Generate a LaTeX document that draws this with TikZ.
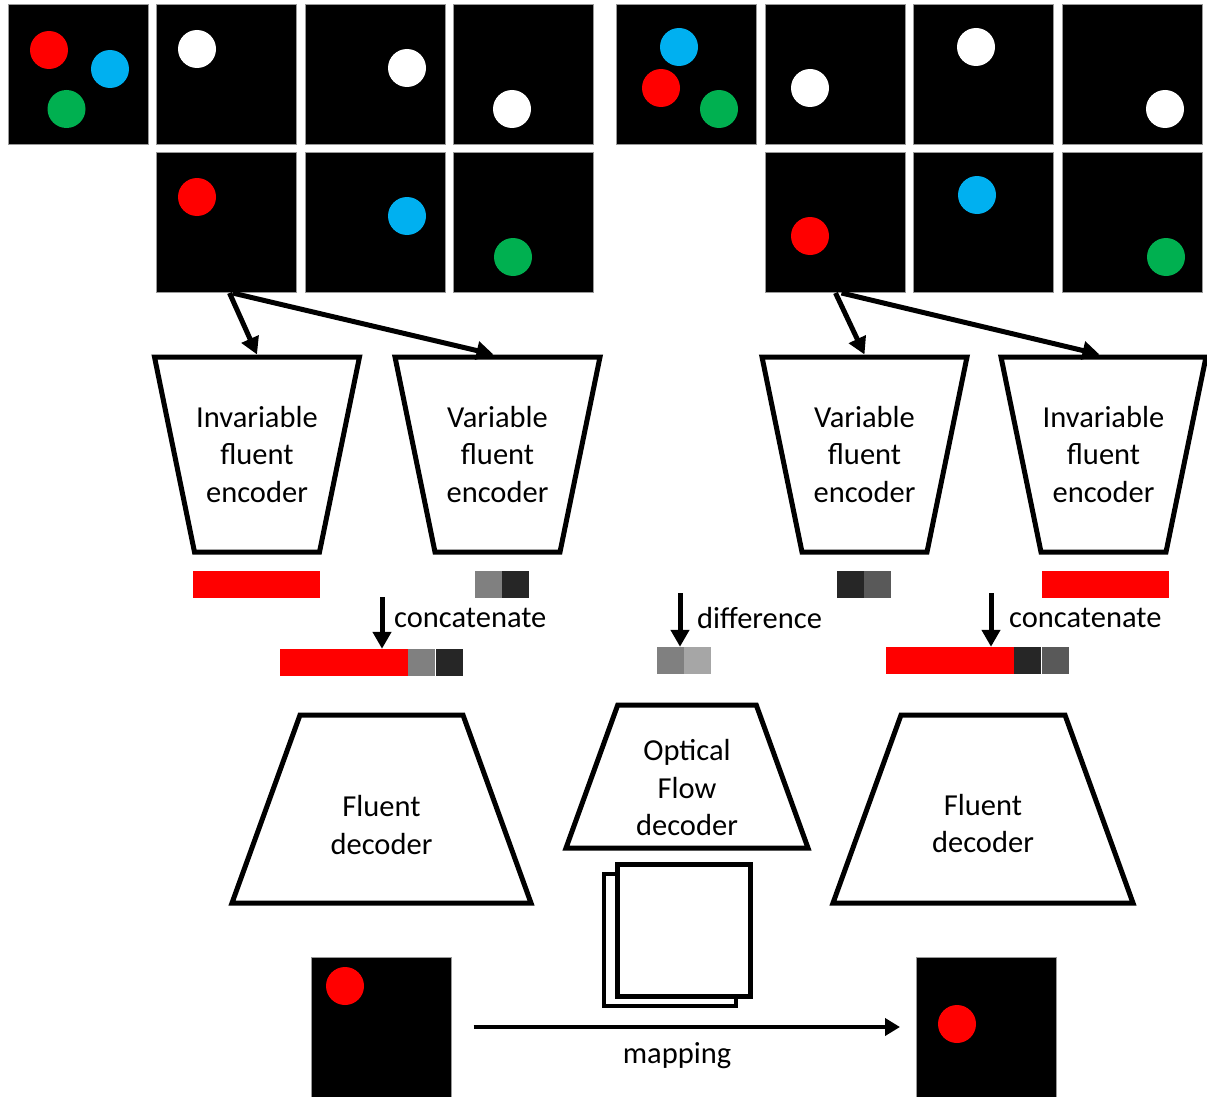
\documentclass[tikz,border=0pt]{standalone}
\usepackage{fontspec}
\setmainfont{Carlito}
\usetikzlibrary{shapes.geometric,arrows.meta,positioning}

\definecolor{ballred}{HTML}{FF0000}
\definecolor{ballblue}{HTML}{00B0F0}
\definecolor{ballgreen}{HTML}{00B050}
\definecolor{gmid}{HTML}{808080}
\definecolor{gdark}{HTML}{262626}
\definecolor{gdim}{HTML}{595959}
\definecolor{glight}{HTML}{A6A6A6}

\newcommand{\lblfont}{\fontsize{30.5}{37.5}\selectfont}

\tikzset{
  frame/.style={fill=black, draw=gray!80, line width=1pt, minimum size=140pt, inner sep=0pt},
  ball/.style={circle, minimum size=38pt, inner sep=0pt, draw=none},
  enc/.style={trapezium, draw, line width=5pt, trapezium angle=78.41,
    shape border rotate=180, trapezium stretches body,
    minimum width=205pt, inner xsep=0pt, inner ysep=97.5pt},
  dec/.style={trapezium, draw, line width=5pt, trapezium angle=70.11,
    trapezium stretches body, inner xsep=0pt},
  lbl/.style={align=center, font=\lblfont, inner sep=0pt},
  cell/.style={minimum width=27pt, minimum height=27pt, inner sep=0pt, draw=none},
  vec/.style={cell, minimum width=127pt, fill=ballred},
  page/.style={draw, fill=white, inner sep=0pt},
  arr/.style={line width=5pt, -{Triangle[length=17pt,width=18pt]}},
  maparr/.style={line width=4.5pt, -{Triangle[length=15pt,width=17pt]}}
}

\begin{document}
\begin{tikzpicture}[x=1pt, y=-1pt]
    \useasboundingbox (0,0) rectangle (1207,1097);

    %% frames
    \foreach \n/\x/\y in {La/78/75, Lb/226.5/75, Lc/375/75, Ld/523/75,
                          Le/226.5/222.5, Lf/375/222.5, Lg/523/222.5,
                          Ra/686.5/75, Rb/835.5/75, Rc/983.5/75, Rd/1132/75,
                          Re/835.5/222.5, Rf/983.5/222.5, Rg/1132/222.5,
                          inL/381.5/1027, outR/986/1027} {
      \node[frame] (\n) at (\x,\y) {}; }

    %% balls
    \foreach \n/\c/\x/\y in {a1/ballred/49/50, a2/ballblue/110/69, a3/ballgreen/66.5/109,
                             b1/white/197/49, c1/white/407/68, d1/white/512/109,
                             e1/ballred/197/197, f1/ballblue/407/216, g1/ballgreen/513/257,
                             ra1/ballblue/679/47, ra2/ballred/661/88, ra3/ballgreen/719/109,
                             rb1/white/810/88, rc1/white/976/47, rd1/white/1165/109,
                             re1/ballred/810/236, rf1/ballblue/977/195, rg1/ballgreen/1166/257,
                             in1/ballred/345/986, out1/ballred/957/1024} {
      \node[ball, fill=\c] (ball\n) at (\x,\y) {}; }

    %% encoders
    \node[enc] (ienL) at (257,454.5) {};
    \node[lbl] (ienLtxt) at (ienL) {Invariable\\fluent\\encoder};
    \node[enc] (venL) at (497.5,454.5) {};
    \node[lbl] (venLtxt) at (venL) {Variable\\fluent\\encoder};
    \node[enc] (venR) at (864.5,454.5) {};
    \node[lbl] (venRtxt) at (venR) {Variable\\fluent\\encoder};
    \node[enc] (ienR) at (1103.5,454.5) {};
    \node[lbl] (ienRtxt) at (ienR) {Invariable\\fluent\\encoder};

    \draw[arr] ([xshift=3pt]Le.south) -- (ienL.north);
    \draw[arr] ([xshift=6pt]Le.south) -- ([xshift=-4pt]venL.north);
    \draw[arr] ([xshift=0pt]Re.south) -- (venR.north);
    \draw[arr] ([xshift=6pt]Re.south) -- ([xshift=-4pt]ienR.north);

    %% codes
    \node[vec] (codeIL) at (256.5,584.5) {};
    \node[cell, fill=gmid] (codeVL1) at (488,584.5) {};
    \node[cell, fill=gdark, right=0pt of codeVL1] (codeVL2) {};
    \node[cell, fill=gdark] (codeVR1) at (850,584.5) {};
    \node[cell, fill=gdim, right=0pt of codeVR1] (codeVR2) {};
    \node[vec] (codeIR) at (1105.5,584.5) {};

    %% concatenate / difference
    \node[vec, minimum width=128pt] (catL) at (344,662.5) {};
    \node[cell, fill=gmid, right=0pt of catL] (catL2) {};
    \node[cell, fill=gdark, right=0pt of catL2] (catL3) {};
    \coordinate (catLtop) at (382,597);
    \draw[arr] (catLtop) -- (catLtop |- catL.north);
    \node[lbl, anchor=base west] (catLtxt) at (394,627) {concatenate};

    \node[cell, fill=gmid] (dif1) at (670.5,660.5) {};
    \node[cell, fill=glight, right=0pt of dif1] (dif2) {};
    \coordinate (diftop) at (680,593);
    \draw[arr] (diftop) -- (diftop |- dif1.north);
    \node[lbl, anchor=base west] (diftxt) at (697,628) {difference};

    \node[vec, minimum width=128pt] (catR) at (950,660.5) {};
    \node[cell, fill=gdark, right=0pt of catR] (catR2) {};
    \node[cell, fill=gdim, right=0pt of catR2] (catR3) {};
    \coordinate (catRtop) at (991,593);
    \draw[arr] (catRtop) -- (catRtop |- catR.north);
    \node[lbl, anchor=base west] (catRtxt) at (1009,627) {concatenate};

    %% decoders
    \node[dec, minimum width=299pt, inner ysep=94pt] (fdL) at (381.5,809) {};
    \node[lbl] (fdLtxt) at (381.5,825) {Fluent\\decoder};
    \node[dec, minimum width=242pt, inner ysep=71.5pt] (ofd) at (687,776.5) {};
    \node[lbl] (ofdtxt) at (687,788) {Optical\\Flow\\decoder};
    \node[dec, minimum width=300pt, inner ysep=94pt] (fdR) at (983,809) {};
    \node[lbl] (fdRtxt) at (983,823.5) {Fluent\\decoder};

    %% flow maps
    \node[page, line width=4pt, minimum width=132pt, minimum height=132pt] (flowB) at (670,940) {};
    \node[page, line width=5pt, minimum width=133pt, minimum height=132pt] (flowF) at (684,930.5) {};

    %% mapping
    \draw[maparr, shorten <=21.5pt, shorten >=15.5pt] (inL.east) -- (outR.west);
    \node[lbl, anchor=base] (maptxt) at (677,1063) {mapping};

\end{tikzpicture}
\end{document}
